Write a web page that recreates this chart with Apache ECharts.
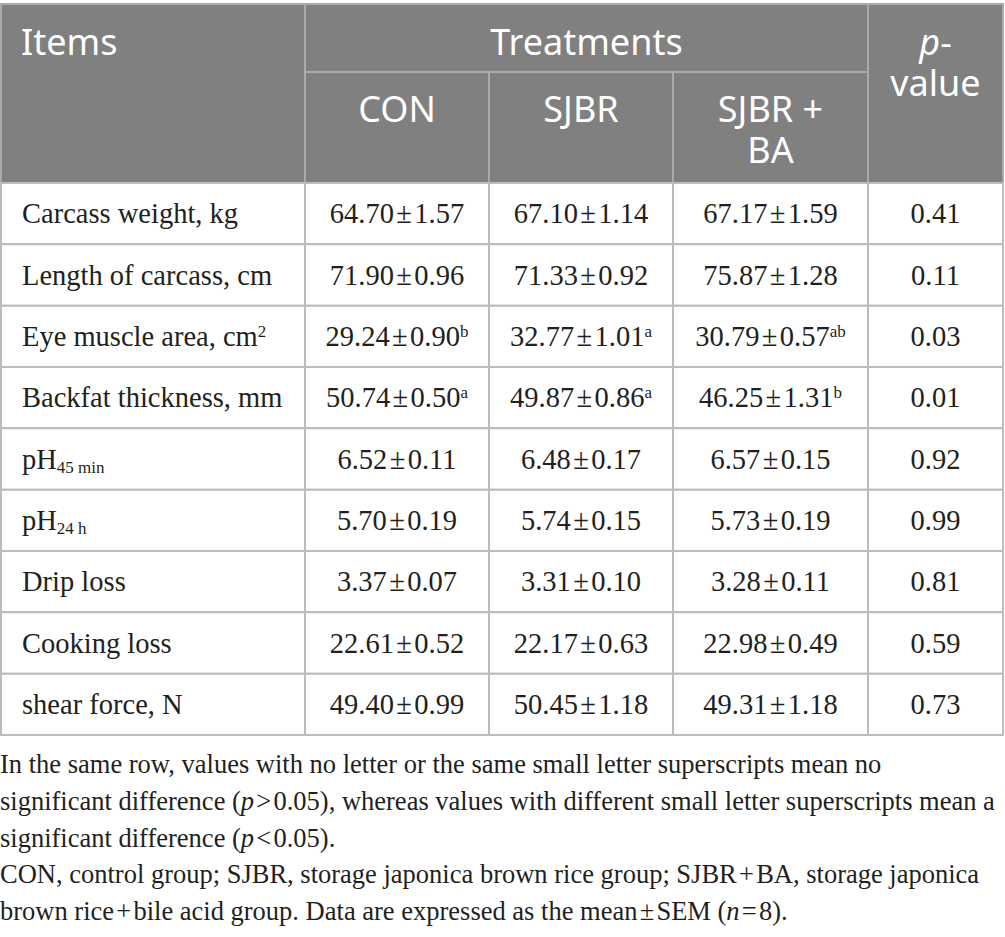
<!DOCTYPE html>
<html>
<head>
<meta charset="utf-8">
<script src="https://cdn.jsdelivr.net/npm/echarts@6/dist/echarts.min.js"></script>
<style>html,body{margin:0;padding:0;background:#fff;}#main{width:1005px;height:937px;}</style>
</head>
<body>
<div id="main"></div>
<script>
// ---- data ----
const items = ['Carcass weight, kg', 'Length of carcass, cm', 'Eye muscle area, cm{sup|2}', 'Backfat thickness, mm', 'pH{sub|45 min}', 'pH{sub|24 h}', 'Drip loss', 'Cooking loss', 'shear force, N'];
const treatments = ['CON', 'SJBR', 'SJBR +\nBA'];
const conMean = [64.70, 71.90, 29.24, 50.74, 6.52, 5.70, 3.37, 22.61, 49.40];
const conSem = [1.57, 0.96, 0.90, 0.50, 0.11, 0.19, 0.07, 0.52, 0.99];
const conLetter = ['', '', 'b', 'a', '', '', '', '', ''];
const sjbrMean = [67.10, 71.33, 32.77, 49.87, 6.48, 5.74, 3.31, 22.17, 50.45];
const sjbrSem = [1.14, 0.92, 1.01, 0.86, 0.17, 0.15, 0.10, 0.63, 1.18];
const sjbrLetter = ['', '', 'a', 'a', '', '', '', '', ''];
const baMean = [67.17, 75.87, 30.79, 46.25, 6.57, 5.73, 3.28, 22.98, 49.31];
const baSem = [1.59, 1.28, 0.57, 1.31, 0.15, 0.19, 0.11, 0.49, 1.18];
const baLetter = ['', '', 'ab', 'b', '', '', '', '', ''];
const pValues = [0.41, 0.11, 0.03, 0.01, 0.92, 0.99, 0.81, 0.59, 0.73];
const footnote = [
  'In the same row, values with no letter or the same small letter superscripts mean no',
  'significant difference ({i|p}\u200a>\u200a0.05), whereas values with different small letter superscripts mean a',
  'significant difference ({i|p}\u200a<\u200a0.05).',
  'CON, control group; SJBR, storage japonica brown rice group; SJBR\u200a+\u200aBA, storage japonica',
  'brown rice\u200a+\u200abile acid group. Data are expressed as the mean\u200a\u00b1\u200aSEM ({i|n}\u200a=\u200a8).'
];

// ---- layout ----
const colEdges = [0, 304, 488, 672, 867, 1002];
const hdr1 = 68, hdr2 = 179, rowH = (731 - 179) / items.length;
const rowEdges = [0, hdr1, hdr2];
for (let i = 1; i <= items.length; i++) rowEdges.push(hdr2 + rowH * i);

const HFONT = '"Noto Sans", "Open Sans", sans-serif';
const BFONT = '"Liberation Serif", "DejaVu Serif", serif';

function fmt(m, s, l) {
  return m.toFixed(2) + '\u200a\u00b1\u200a' + s.toFixed(2) + (l ? '{sup|' + l + '}' : '');
}

const cells = [];
// header
cells.push({c0: 0, c1: 1, r0: 0, r1: 2, text: 'Items', head: true, align: 'left', dx: 20, dy: 37.5});
cells.push({c0: 1, c1: 4, r0: 0, r1: 1, text: 'Treatments', head: true, align: 'center', dy: 37.5});
cells.push({c0: 4, c1: 5, r0: 0, r1: 2, text: '{hi|p}-\nvalue', head: true, align: 'center', dy: 58});
treatments.forEach((t, i) => {
  cells.push({c0: 1 + i, c1: 2 + i, r0: 1, r1: 2, text: t, head: true, align: 'center', dy: t.indexOf('\n') >= 0 ? 57 : 36});
});
// body
items.forEach((it, r) => {
  const row = r + 2;
  cells.push({c0: 0, c1: 1, r0: row, r1: row + 1, text: it, align: 'left', dx: 21});
  cells.push({c0: 1, c1: 2, r0: row, r1: row + 1, text: fmt(conMean[r], conSem[r], conLetter[r]), align: 'center'});
  cells.push({c0: 2, c1: 3, r0: row, r1: row + 1, text: fmt(sjbrMean[r], sjbrSem[r], sjbrLetter[r]), align: 'center'});
  cells.push({c0: 3, c1: 4, r0: row, r1: row + 1, text: fmt(baMean[r], baSem[r], baLetter[r]), align: 'center'});
  cells.push({c0: 4, c1: 5, r0: row, r1: row + 1, text: pValues[r].toFixed(2), align: 'center'});
});

const chart = echarts.init(document.getElementById('main'), null, {renderer: 'svg'});

function renderItem(params, api) {
  const c = cells[params.dataIndex];
  const p0 = api.coord([colEdges[c.c0], rowEdges[c.r0]]);
  const p1 = api.coord([colEdges[c.c1], rowEdges[c.r1]]);
  const x = p0[0], y = p0[1], w = p1[0] - p0[0], h = p1[1] - p0[1];
  const tx = c.align === 'left' ? x + c.dx : x + w / 2;
  const ty = c.head ? y + c.dy : y + h / 2;
  const textStyle = c.head ? {
    text: c.text, x: tx, y: ty, align: c.align, verticalAlign: 'middle',
    fill: '#ffffff', fontFamily: HFONT, fontSize: 36, lineHeight: 41.5,
    rich: { hi: { fontFamily: HFONT, fontStyle: 'italic', fontSize: 36, lineHeight: 41.5, fill: '#ffffff' } }
  } : {
    text: c.text, x: tx, y: ty, align: c.align, verticalAlign: 'middle',
    fill: '#231f20', fontFamily: BFONT, fontSize: 28.5, lineHeight: 32,
    rich: {
      sup: { fontFamily: BFONT, fontSize: 17, lineHeight: 17, padding: [0, 0, 10, 0], verticalAlign: 'middle', fill: '#231f20' },
      sub: { fontFamily: BFONT, fontSize: 17, lineHeight: 17, padding: [17, 0, 0, 0], verticalAlign: 'middle', fill: '#231f20' }
    }
  };
  return {
    type: 'group',
    children: [
      { type: 'rect', shape: {x: x, y: y, width: w, height: h},
        style: { fill: c.head ? '#7f807f' : '#ffffff', stroke: c.head ? '#a9aaa9' : '#bcbcbc', lineWidth: 2 }, z2: c.head ? 1 : 2 },
      { type: 'text', style: textStyle, z2: 5 }
    ]
  };
}

chart.setOption({
  animation: false,
  backgroundColor: '#ffffff',
  grid: { left: 1, top: 4, width: 1002, height: 731 },
  xAxis: { type: 'value', min: 0, max: 1002, show: false },
  yAxis: { type: 'value', min: 0, max: 731, inverse: true, show: false },
  title: {
    text: footnote.join('\n'),
    left: 0, top: 746, padding: 0,
    textStyle: {
      fontFamily: BFONT, fontSize: 26.5, lineHeight: 36.6, fontWeight: 'normal', color: '#231f20',
      rich: { i: { fontFamily: BFONT, fontStyle: 'italic', fontSize: 26.5, lineHeight: 36.6, color: '#231f20' } }
    }
  },
  series: [{
    type: 'custom',
    renderItem: renderItem,
    clip: false,
    data: cells.map(c => [colEdges[c.c0], rowEdges[c.r0]])
  }]
});
</script>
</body>
</html>
